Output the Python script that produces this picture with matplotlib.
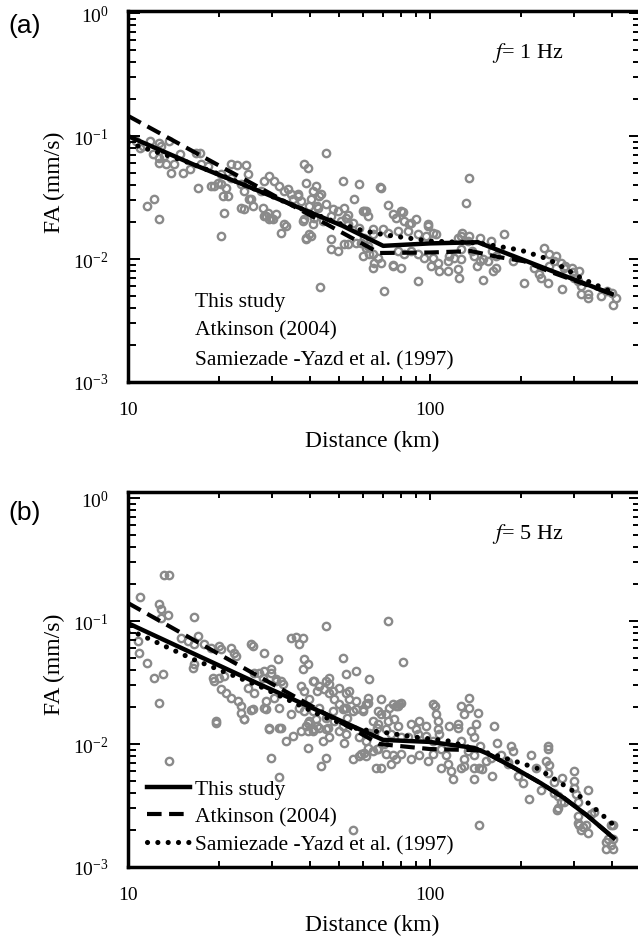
import numpy as np
import matplotlib
matplotlib.use("Agg")
import matplotlib.pyplot as plt
from matplotlib.ticker import LogLocator, NullFormatter, FuncFormatter

# ---- panel (a), f = 1 Hz : observed points ----
dist_a = [11.8, 12.7, 12.9, 12.1, 12.7, 13.2, 12.7, 13.4, 14.2, 14.9, 13.9, 15.2, 16.8, 17.3, 16.0, 17.5,
          18.4, 18.8, 20.3, 21.9, 22.9, 24.6, 20.3, 21.9, 23.7, 24.9, 11.6, 12.2, 12.7, 20.6, 20.8, 23.7,
          25.9, 25.1, 27.6, 29.3, 30.4, 31.6, 32.8, 34.7, 36.6, 37.4, 29.0, 30.9, 32.8, 29.3, 38.3, 39.5,
          38.9, 42.0, 40.4, 42.6, 41.4, 20.3, 24.3, 28.2, 29.8, 32.1, 38.9, 39.8, 38.3, 43.2, 11.0, 13.7,
          17.0, 19.3, 19.9, 21.1, 21.5, 24.2, 27.9, 25.5, 28.2, 34.0, 36.6, 35.3, 28.7, 30.2, 33.4, 45.3,
          41.0, 43.0, 39.8, 42.3, 45.3, 47.7, 49.7, 51.8, 51.4, 58.1, 56.1, 61.4, 64.6, 68.8, 72.6, 75.4,
          69.9, 52.7, 55.6, 58.1, 37.9, 41.0, 44.3, 47.0, 38.9, 40.4, 47.0, 47.0, 49.7, 51.8, 56.9, 61.4,
          64.6, 65.1, 67.5, 75.4, 60.0, 62.9, 50.8, 53.6, 53.6, 60.0, 62.4, 77.2, 80.2, 82.1, 86.5, 89.9,
          98.5, 102, 105, 97.0, 91.3, 84.6, 78.4, 72.9, 64.6, 60.5, 59.1, 53.6, 62.4, 64.6, 68.8, 75.7,
          80.2, 91.3, 70.3, 78.4, 82.1, 86.5, 91.3, 95.5, 102, 106, 101, 107, 115, 115, 116, 120,
          124, 125, 127, 127, 124, 127, 128, 135, 134, 147, 159, 176, 135, 132, 138, 140,
          150, 156, 150, 162, 165, 189, 205, 230, 239, 248, 261, 257, 271, 278, 248, 246,
          273, 295, 297, 311, 309, 316, 316, 333, 333, 368, 386, 400, 412, 405, 233, 221,
          43.6, 68.3, 60.5, 81.6, 85.2, 98.5, 10.6, 11.2, 165, 161, 147, 143, 281, 300]
fa_a = [0.091, 0.088, 0.083, 0.072, 0.066, 0.069, 0.060, 0.059, 0.059, 0.072, 0.050, 0.050, 0.073, 0.073, 0.054, 0.059,
        0.057, 0.039, 0.041, 0.059, 0.058, 0.058, 0.049, 0.046, 0.041, 0.049, 0.027, 0.031, 0.021, 0.0325, 0.0237, 0.026,
        0.027, 0.031, 0.0357, 0.047, 0.043, 0.039, 0.036, 0.034, 0.034, 0.0296, 0.0237, 0.0232, 0.0193, 0.0212, 0.059, 0.055,
        0.0415, 0.039, 0.031, 0.026, 0.0215, 0.0154, 0.0255, 0.0224, 0.0215, 0.0163, 0.0148, 0.016, 0.021, 0.0059, 0.080, 0.091,
        0.038, 0.039, 0.0415, 0.038, 0.0325, 0.0357, 0.026, 0.0305, 0.043, 0.037, 0.0325, 0.031, 0.0224, 0.0212, 0.0185, 0.073,
        0.0357, 0.0325, 0.027, 0.027, 0.028, 0.0255, 0.0246, 0.026, 0.0431, 0.041, 0.031, 0.0246, 0.0176, 0.038, 0.0275, 0.0232,
        0.0176, 0.0215, 0.0196, 0.0178, 0.0204, 0.0193, 0.0204, 0.0224, 0.0146, 0.0154, 0.0146, 0.0121, 0.0116, 0.0133, 0.0135, 0.0123,
        0.0084, 0.0092, 0.0102, 0.0090, 0.0106, 0.0110, 0.0204, 0.023, 0.0193, 0.0246, 0.0224, 0.0215, 0.0246, 0.0204, 0.0196, 0.0212,
        0.0185, 0.0163, 0.016, 0.0154, 0.016, 0.0169, 0.0169, 0.0163, 0.016, 0.0148, 0.0135, 0.0133, 0.0128, 0.011, 0.0093, 0.0088,
        0.0084, 0.0066, 0.0055, 0.0116, 0.0110, 0.0116, 0.0110, 0.0102, 0.0102, 0.0093, 0.0088, 0.0080, 0.0080, 0.0096, 0.0106, 0.0102,
        0.0083, 0.0070, 0.0100, 0.0121, 0.0148, 0.0154, 0.0163, 0.0154, 0.0140, 0.0148, 0.0140, 0.016, 0.0456, 0.0285, 0.0116, 0.0106,
        0.0100, 0.0096, 0.0068, 0.0080, 0.0084, 0.0096, 0.0064, 0.0076, 0.0123, 0.0110, 0.0106, 0.0096, 0.0093, 0.0085, 0.0088, 0.0064,
        0.0057, 0.0085, 0.0078, 0.0080, 0.0066, 0.0060, 0.0052, 0.0052, 0.0048, 0.0050, 0.0055, 0.0053, 0.0048, 0.0042, 0.0070, 0.0085,
        0.034, 0.0385, 0.0246, 0.024, 0.0193, 0.0193, 0.091, 0.083, 0.0106, 0.0116, 0.0096, 0.0088, 0.0088, 0.0070]

# ---- panel (b), f = 5 Hz : observed points ----
dist_b = [11.0, 13.2, 13.7, 12.7, 12.9, 13.6, 12.9, 16.5, 10.8, 10.9, 11.6, 12.2, 13.1, 12.7, 15.0, 15.8,
          16.5, 16.5, 16.4, 17.1, 17.8, 18.8, 20.0, 20.3, 21.9, 22.4, 22.8, 25.5, 28.2, 31.3, 19.1, 20.0,
          20.8, 20.3, 21.1, 21.9, 23.1, 26.1, 28.2, 29.8, 30.9, 32.6, 24.9, 23.7, 26.1, 28.7, 30.4, 34.7,
          36.0, 37.9, 36.8, 38.3, 39.5, 37.9, 41.0, 37.4, 38.3, 42.3, 39.8, 13.7, 25.9, 29.8, 27.2, 19.3,
          24.2, 19.6, 25.5, 28.2, 28.0, 30.9, 32.1, 29.3, 31.6, 33.4, 35.2, 29.8, 45.3, 51.4, 56.9, 62.9,
          72.6, 43.0, 47.7, 45.3, 49.9, 52.7, 55.6, 38.9, 41.0, 42.3, 45.3, 46.3, 44.3, 49.9, 52.7, 51.8,
          58.1, 61.4, 65.1, 67.5, 71.5, 60.5, 58.1, 55.6, 64.6, 67.5, 45.3, 43.6, 39.5, 41.4, 43.0, 44.6,
          46.3, 49.9, 52.7, 53.9, 56.9, 60.0, 62.4, 68.8, 67.5, 71.5, 75.4, 75.9, 45.3, 46.3, 47.7, 48.2,
          51.4, 52.7, 36.8, 41.0, 39.5, 81.6, 46.3, 53.9, 62.4, 78.4, 80.2, 102, 127, 135, 38.3, 39.8,
          42.0, 43.0, 45.9, 48.2, 51.4, 53.2, 51.8, 56.9, 60.0, 61.4, 64.6, 67.0, 62.9, 68.8, 72.6, 73.1,
          77.2, 78.8, 78.4, 86.5, 89.9, 91.9, 97.0, 104, 105, 106, 106, 107, 102, 97.0, 91.3, 84.6,
          80.2, 74.3, 70.3, 67.0, 62.4, 59.1, 61.4, 66.3, 68.8, 71.5, 75.4, 77.2, 74.3, 80.2, 86.5, 91.9,
          98.5, 102, 109, 113, 109, 115, 117, 119, 127, 130, 134, 127, 124, 130, 135, 144,
          142, 137, 116, 124, 140, 147, 140, 145, 149, 153, 159, 161, 140, 145, 39.5, 37.4,
          140, 130, 167, 163, 172, 185, 189, 181, 182, 195, 203, 216, 224, 213, 233, 246,
          246, 242, 248, 246, 257, 257, 266, 271, 278, 274, 266, 264, 300, 300, 300, 304,
          309, 309, 309, 311, 316, 321, 328, 333, 333, 341, 349, 397, 390, 382, 382, 397,
          405, 405, 405, 19.6, 23.7, 24.2, 25.9, 28.7, 29.3, 32.1, 31.6, 31.6, 34.7, 41.0, 55.6]
fa_b = [0.157, 0.237, 0.237, 0.137, 0.125, 0.112, 0.106, 0.108, 0.0688, 0.055, 0.0456, 0.0344, 0.037, 0.0216, 0.0727, 0.0688,
        0.065, 0.0448, 0.0415, 0.0755, 0.065, 0.060, 0.0626, 0.059, 0.060, 0.055, 0.052, 0.065, 0.055, 0.049, 0.0344, 0.0344,
        0.0357, 0.028, 0.026, 0.0237, 0.0224, 0.0378, 0.0392, 0.0378, 0.0338, 0.0308, 0.0285, 0.0204, 0.026, 0.0224, 0.0237, 0.0727,
        0.074, 0.0727, 0.065, 0.049, 0.0448, 0.041, 0.0325, 0.0296, 0.027, 0.027, 0.0232, 0.0073, 0.0626, 0.041, 0.0378, 0.0325,
        0.016, 0.0154, 0.019, 0.0196, 0.0344, 0.0325, 0.0325, 0.0135, 0.0135, 0.0106, 0.0116, 0.0077, 0.091, 0.050, 0.0392, 0.0338,
        0.100, 0.0196, 0.0185, 0.0163, 0.0212, 0.0196, 0.0185, 0.014, 0.0133, 0.014, 0.0133, 0.0113, 0.0106, 0.0128, 0.012, 0.0102,
        0.0113, 0.0106, 0.0123, 0.0146, 0.0133, 0.0084, 0.0080, 0.0076, 0.0088, 0.0091, 0.0077, 0.0066, 0.0093, 0.0325, 0.0296, 0.028,
        0.026, 0.0285, 0.026, 0.0232, 0.0224, 0.0192, 0.0237, 0.0232, 0.0185, 0.0176, 0.0212, 0.016, 0.0325, 0.0344, 0.027, 0.0232,
        0.0192, 0.037, 0.0196, 0.0185, 0.0149, 0.0464, 0.0308, 0.027, 0.0216, 0.0204, 0.0216, 0.021, 0.0204, 0.0237, 0.0185, 0.0154,
        0.016, 0.0135, 0.0135, 0.0154, 0.014, 0.0163, 0.0196, 0.0192, 0.0185, 0.021, 0.0154, 0.0135, 0.0123, 0.0176, 0.0154, 0.0196,
        0.0204, 0.021, 0.014, 0.0146, 0.0133, 0.0154, 0.014, 0.0204, 0.0176, 0.0154, 0.0133, 0.012, 0.0106, 0.0116, 0.012, 0.0113,
        0.0113, 0.012, 0.010, 0.0091, 0.0093, 0.0083, 0.0080, 0.0064, 0.0064, 0.0083, 0.0082, 0.0076, 0.0069, 0.0083, 0.0076, 0.0082,
        0.0073, 0.0083, 0.0091, 0.0082, 0.0064, 0.0069, 0.006, 0.0052, 0.0064, 0.0076, 0.0088, 0.0106, 0.0146, 0.0176, 0.0196, 0.018,
        0.0146, 0.0128, 0.014, 0.0135, 0.0113, 0.0096, 0.0064, 0.0064, 0.0063, 0.0073, 0.0077, 0.0055, 0.0052, 0.0022, 0.0128, 0.0128,
        0.0082, 0.0066, 0.0102, 0.014, 0.0082, 0.0097, 0.0088, 0.0071, 0.0069, 0.0055, 0.0048, 0.0082, 0.0064, 0.0036, 0.0042, 0.0096,
        0.0091, 0.0073, 0.0067, 0.0058, 0.0049, 0.0040, 0.0038, 0.0034, 0.0034, 0.0053, 0.0030, 0.0029, 0.006, 0.005, 0.0044, 0.0039,
        0.0034, 0.0026, 0.0023, 0.0022, 0.0020, 0.0021, 0.0022, 0.0019, 0.0042, 0.0027, 0.0028, 0.0022, 0.0017, 0.0016, 0.0014, 0.0015,
        0.0017, 0.0014, 0.0022, 0.0149, 0.0179, 0.016, 0.0192, 0.0192, 0.0133, 0.0135, 0.0054, 0.0196, 0.0176, 0.0128, 0.0020]

# ---- model curves, panel (a) ----
this_a_x = [10, 16.4, 27.2, 51.4, 70, 100, 144, 250, 400]
this_a_y = [0.100, 0.059, 0.0357, 0.0186, 0.0128, 0.0134, 0.0137, 0.0081, 0.0052]
atk_a_x = [10, 21, 68, 100, 137, 168, 205, 246, 400]
atk_a_y = [0.146, 0.054, 0.0112, 0.0113, 0.0116, 0.0104, 0.0096, 0.0080, 0.0052]
sam_a_x = [10, 15, 20, 40, 50, 60, 70, 100, 145, 200, 246, 282, 320, 400]
sam_a_y = [0.088, 0.064, 0.049, 0.0240, 0.0195, 0.0170, 0.0158, 0.0140, 0.0135, 0.0118, 0.0100, 0.0083, 0.0069, 0.0054]

# ---- model curves, panel (b) ----
this_b_x = [10, 27.2, 70, 100, 140, 156, 190, 233, 278, 333, 406]
this_b_y = [0.096, 0.0307, 0.0108, 0.0104, 0.0093, 0.0083, 0.0064, 0.0048, 0.00364, 0.0026, 0.00172]
atk_b_x = [10, 18.5, 68, 100, 147, 156, 190, 233, 278, 333, 406]
atk_b_y = [0.14, 0.060, 0.0100, 0.0091, 0.0089, 0.0083, 0.0064, 0.0048, 0.00364, 0.0026, 0.00172]
sam_b_x = [10, 10.9, 16.4, 27.2, 45.3, 58.1, 72.6, 88.5, 114.7, 147, 168, 200, 228, 258, 300, 351, 406]
sam_b_y = [0.081, 0.078, 0.049, 0.0296, 0.0163, 0.0132, 0.0123, 0.0114, 0.0106, 0.0088, 0.0080, 0.0070, 0.0063, 0.0052,
           0.0041, 0.0030, 0.0022]

labels = ["This study", "Atkinson (2004)", "Samiezade -Yazd et al. (1997)"]

plt.rcParams['font.family'] = ['Liberation Serif', 'DejaVu Serif']
plt.rcParams['mathtext.fontset'] = 'stix'

W, H = 638, 937
fig = plt.figure(figsize=(W / 100, H / 100), dpi=100)


def px_axes(l, t, r, b):
    return fig.add_axes([l / W, 1 - b / H, (r - l) / W, (b - t) / H])


def draw_panel(ax, dist, fa, curves, ytop, ftxt, show_handles, leg_y, leg_sp, xlab_y):
    ax.plot(dist, fa, 'o', mfc='none', mec='#8a8a8a', ms=5.3, mew=1.7, zorder=1)
    (tx, ty), (ax_, ay), (sx, sy) = curves
    ax.plot(tx, ty, color='black', lw=3.2, ls='-', label=labels[0], zorder=4)
    ax.plot(ax_, ay, color='black', lw=3.0, ls=(0, (3.5, 1.8)), label=labels[1], zorder=3)
    ax.plot(sx, sy, color='black', lw=3.7, ls=(0, (0.01, 2.0)), dash_capstyle='round',
            label=labels[2], zorder=3)

    ax.set_xscale('log')
    ax.set_yscale('log')
    ax.set_xlim(10, 500)
    ax.set_ylim(1e-3, ytop)
    for s in ax.spines.values():
        s.set_linewidth(2.5)

    ax.yaxis.set_major_locator(LogLocator(base=10, numticks=10))
    ax.yaxis.set_minor_locator(LogLocator(base=10, subs=np.arange(2, 10), numticks=10))
    ax.yaxis.set_minor_formatter(NullFormatter())
    ax.xaxis.set_major_locator(LogLocator(base=10, numticks=10))
    ax.xaxis.set_minor_locator(LogLocator(base=10, subs=np.arange(2, 10), numticks=10))
    ax.xaxis.set_major_formatter(FuncFormatter(lambda v, p: '%d' % round(v)))
    ax.xaxis.set_minor_formatter(NullFormatter())

    ax.tick_params(which='both', direction='in', top=True, right=True, width=1.4)
    ax.tick_params(axis='y', which='major', length=8.5, labelsize=14, pad=14)
    ax.tick_params(axis='y', which='minor', length=5.5)
    ax.tick_params(axis='x', which='major', length=5.5, labelsize=14, pad=14)
    ax.tick_params(axis='x', which='minor', length=4)

    ax.set_xlabel('Distance (km)', fontsize=17)
    ax.set_ylabel('FA (mm/s)', fontsize=17)
    ax.yaxis.set_label_coords(-0.123, 0.542)
    ax.xaxis.set_label_coords(0.476, xlab_y)

    ax.text(0.71, 0.89, ftxt, transform=ax.transAxes, fontsize=16, va='center')

    leg = ax.legend(loc='lower left', bbox_to_anchor=(0.037, leg_y), frameon=False, fontsize=15.5,
                    handlelength=2.0, handletextpad=0.25, labelspacing=leg_sp, borderpad=0,
                    borderaxespad=0)
    if not show_handles:
        for h in leg.legend_handles:
            h.set_visible(False)


ax_a = px_axes(128, 12, 641, 383)
draw_panel(ax_a, dist_a, fa_a,
           [(this_a_x, this_a_y), (atk_a_x, atk_a_y), (sam_a_x, sam_a_y)],
           1.04, r'$f$= 1 Hz', False, 0.035, 0.42, -0.13)

ax_b = px_axes(128, 493, 641, 868)
draw_panel(ax_b, dist_b, fa_b,
           [(this_b_x, this_b_y), (atk_b_x, atk_b_y), (sam_b_x, sam_b_y)],
           1.12, r'$f$= 5 Hz', True, 0.034, 0.35, -0.125)

fig.text(8 / W, 1 - 26 / H, '(a)', family=['Liberation Sans', 'DejaVu Sans'], fontsize=19, va='center')
fig.text(8 / W, 1 - 513 / H, '(b)', family=['Liberation Sans', 'DejaVu Sans'], fontsize=19, va='center')

fig.savefig('out.png', dpi=100)
